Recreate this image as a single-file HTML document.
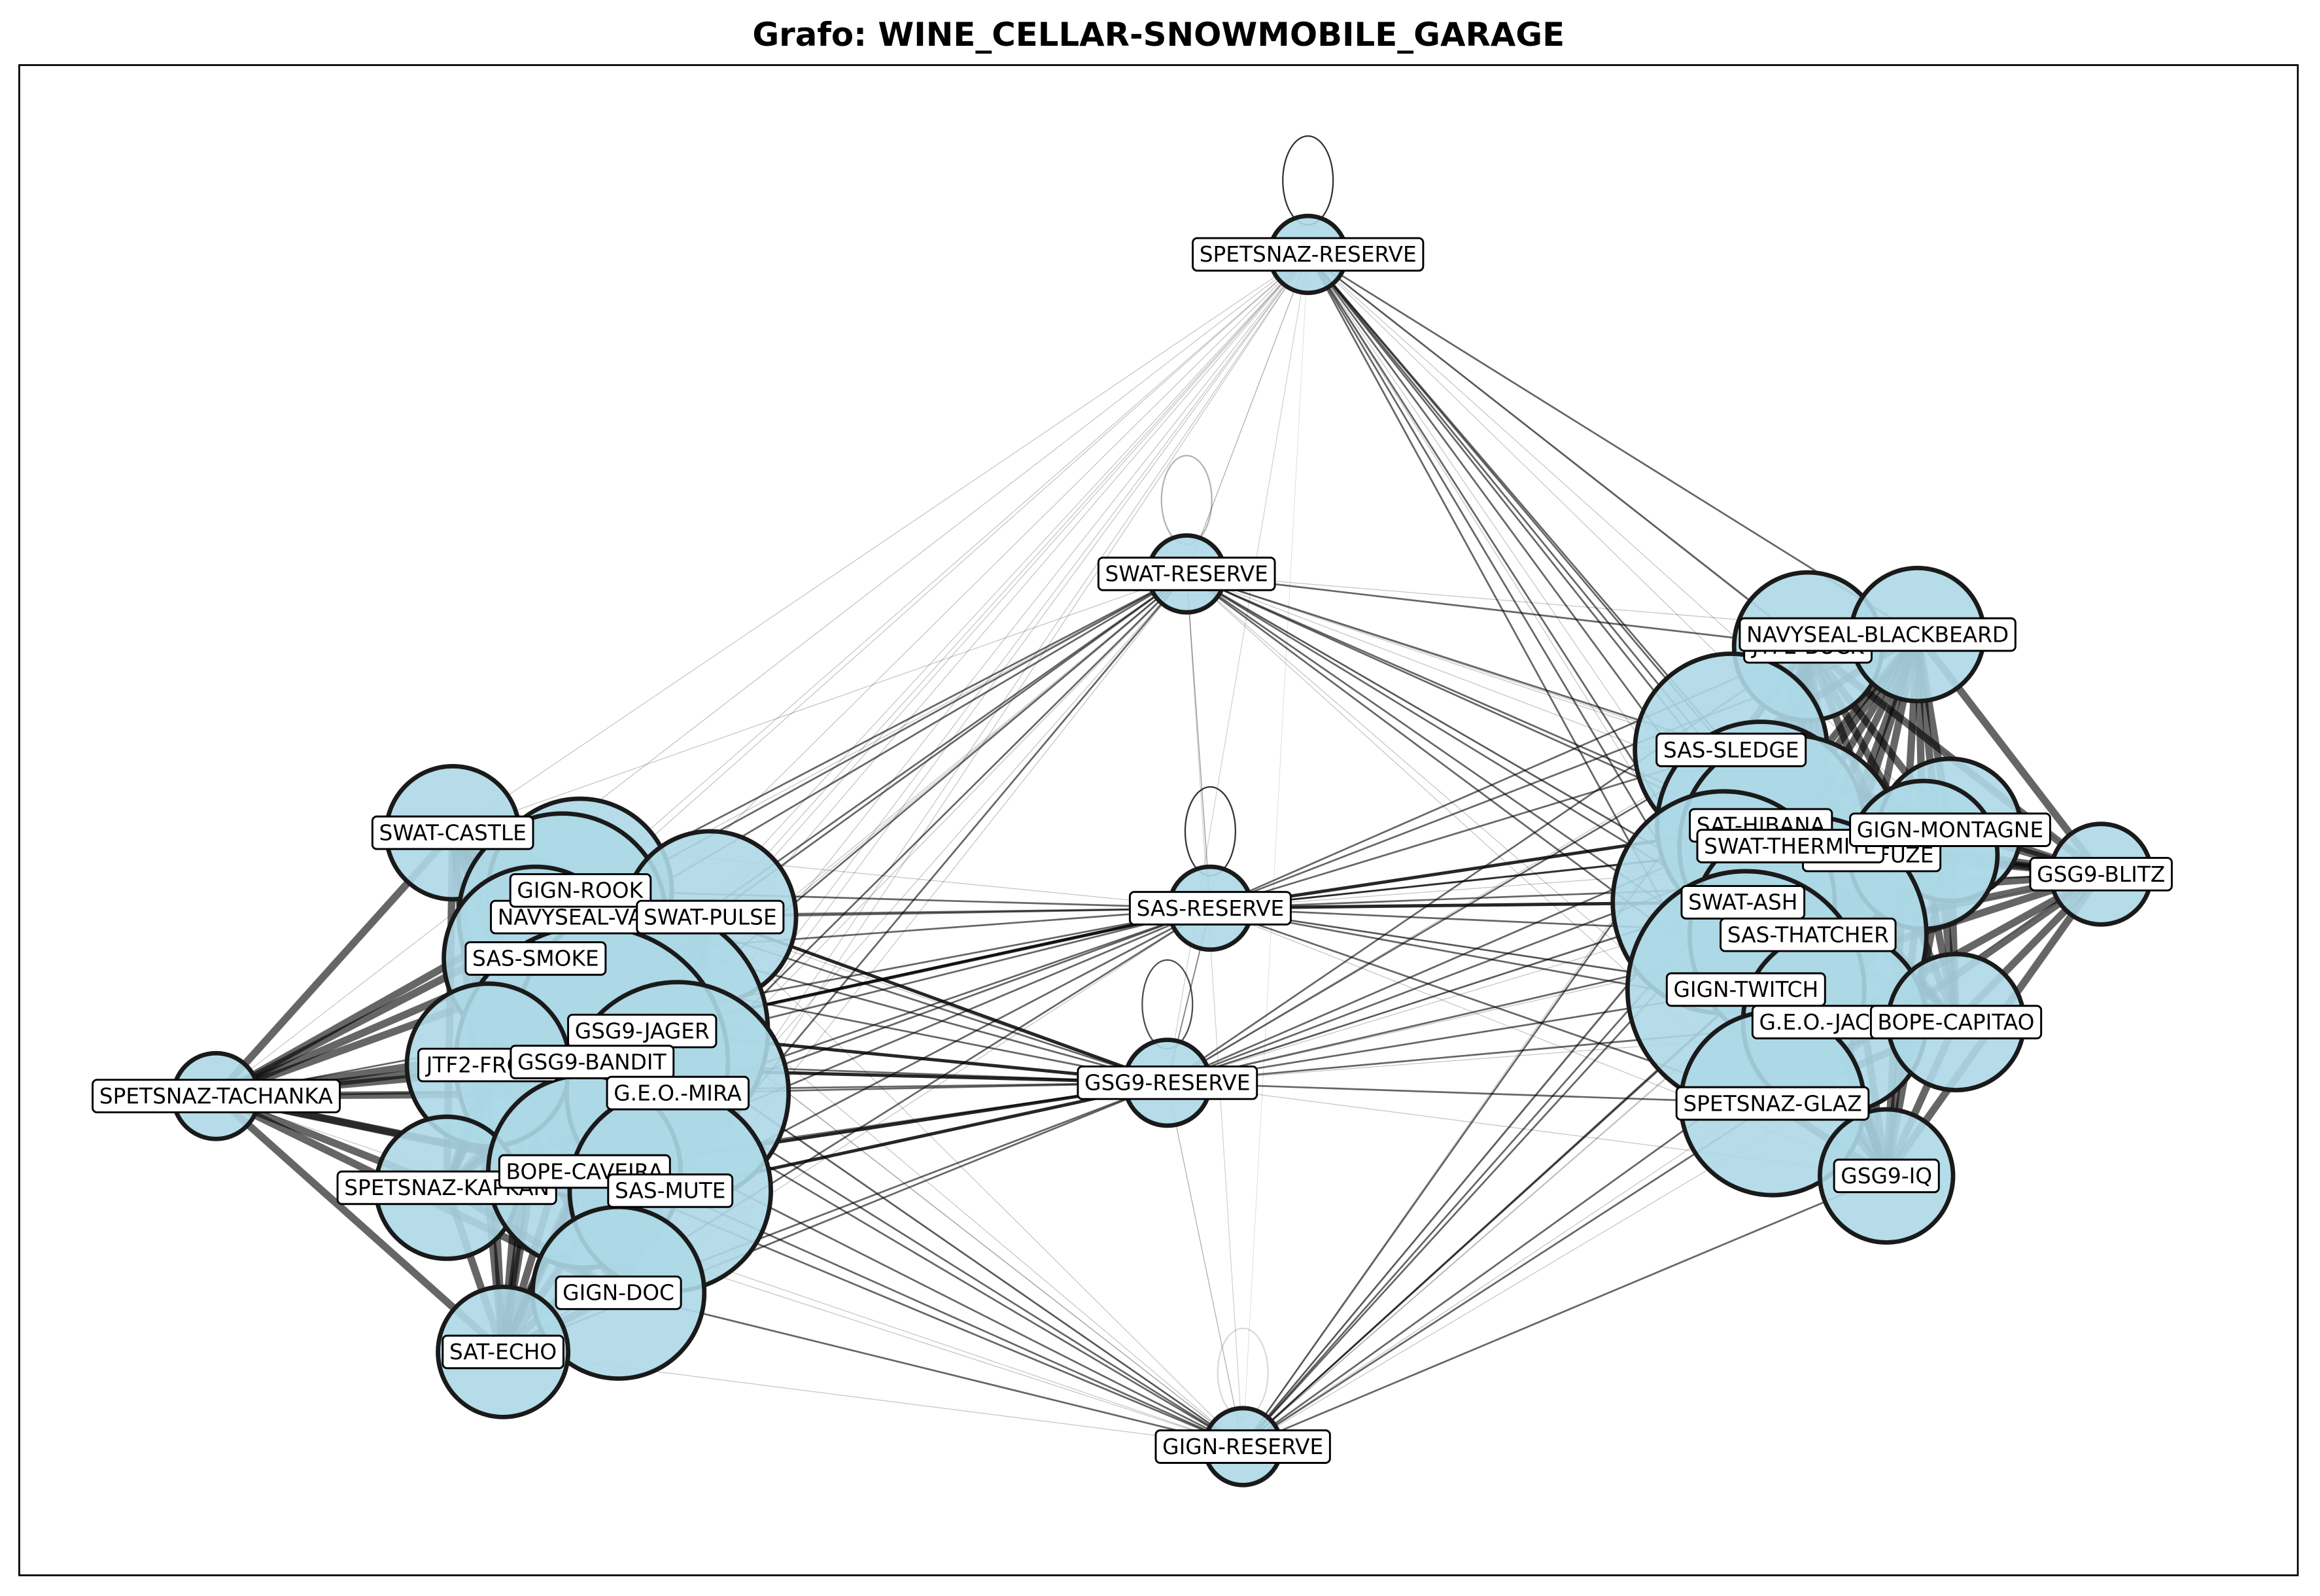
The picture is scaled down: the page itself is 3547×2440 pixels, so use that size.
<!DOCTYPE html>
<html><head><meta charset="utf-8"><style>
html,body{margin:0;padding:0;background:#fff;}
svg{display:block;}
text{font-family:"DejaVu Sans","Liberation Sans",sans-serif;}
</style></head><body>
<svg id="chart" width="3547" height="2440" viewBox="0 0 1568 1079" preserveAspectRatio="none" xmlns="http://www.w3.org/2000/svg">
<rect x="0" y="0" width="1568" height="1079" fill="#fff"/>
<text x="783" y="31" text-anchor="middle" font-size="22" font-weight="bold">Grafo: WINE_CELLAR-SNOWMOBILE_GARAGE</text>
<rect x="13" y="44" width="1540" height="1021" fill="none" stroke="#000" stroke-width="1.2"/>
<g id="edges"></g><g id="nodes"></g><g id="labels"></g>
</svg>
<script>
const nodeNames = ["SPETSNAZ-RESERVE","SWAT-RESERVE","SAS-RESERVE","GSG9-RESERVE","GIGN-RESERVE",
"SPETSNAZ-TACHANKA","SWAT-CASTLE","GIGN-ROOK","NAVYSEAL-VALKYRIE","SWAT-PULSE","SAS-SMOKE","GSG9-JAGER","GSG9-BANDIT","JTF2-FROST","G.E.O.-MIRA","SPETSNAZ-KAPKAN","BOPE-CAVEIRA","SAS-MUTE","GIGN-DOC","SAT-ECHO",
"JTF2-BUCK","NAVYSEAL-BLACKBEARD","SAS-SLEDGE","SAT-HIBANA","SWAT-THERMITE","GIGN-MONTAGNE","GSG9-FUZE","GSG9-BLITZ","SWAT-ASH","SAS-THATCHER","GIGN-TWITCH","G.E.O.-JACKAL","BOPE-CAPITAO","SPETSNAZ-GLAZ","GSG9-IQ"];
const nodeX = [884,802,818,789,840,146,306,392,380,480,362,434,400,330,458,302,395,453,418,340,1222,1296,1170,1190,1210,1318,1300,1420,1165,1222,1180,1240,1322,1198,1275];
const nodeY = [172,388,614,732,978,741,563,602,620,620,648,697,718,720,739,803,792,805,874,914,437,429,507,558,572,561,578,591,610,632,669,691,691,746,795];
const nodeR = [26,26,28,29,26,29,45,62,70,58,62,85,92,55,75,48,65,68,58,44,50,45,65,70,75,48,50,34,75,80,80,62,46,62,45];
const labelX = [884,802,818,789,840,146,306,392,410,480,362,434,400,330,458,302,395,453,418,340,1222,1269,1170,1190,1210,1318,1265,1420,1178,1222,1180,1240,1322,1198,1275];
const labelY = [172,388,614,732,978,741,563,602,620,620,648,697,718,720,739,803,792,805,874,914,437,429,507,558,572,561,578,591,610,632,669,691,691,746,795];
const labelOrder = [0,1,2,3,4,5,6,8,7,9,10,11,13,12,14,15,16,17,18,19,20,21,22,26,23,24,25,27,28,29,30,31,32,33,34];
// reserve -> cluster weights (nodes 5..34), 0 = none
const resWeights = [
 [1,1,1,1,1,0,1,1,1,1,1,1,1,1,1, 2,2,2,2,2,1,1,1,2,2,2,1,2,2,1],
 [1,1,2,2,2,2,2,1,2,1,1,2,2,1,1, 2,1,2,2,2,1,1,1,2,2,2,2,1,1,1],
 [2,1,2,2,2,2,2,2,3,2,2,2,2,1,2, 2,2,2,3,2,2,1,2,3,2,2,2,1,2,1],
 [2,1,2,2,3,2,3,2,3,2,2,3,3,2,2, 2,1,2,2,2,1,1,1,2,2,2,2,1,2,1],
 [1,1,1,1,1,1,2,2,2,2,1,2,2,2,1, 2,1,1,2,2,1,1,1,2,2,2,2,1,2,2]
];
const selfLoopNodes = [0,1,2,3,4];
const selfLoopAlpha = [0.8,0.3,0.8,0.7,0.15];
const widths=[0,0.5,1.2,2.2];
const alphas=[0,0.25,0.6,0.85];
const ns="http://www.w3.org/2000/svg";
const gE=document.getElementById('edges'),gN=document.getElementById('nodes'),gL=document.getElementById('labels');
function line(a,b,w,al){
  const l=document.createElementNS(ns,'line');
  l.setAttribute('x1',nodeX[a]);l.setAttribute('y1',nodeY[a]);l.setAttribute('x2',nodeX[b]);l.setAttribute('y2',nodeY[b]);
  l.setAttribute('stroke','#000');l.setAttribute('stroke-width',w);l.setAttribute('stroke-opacity',al);
  
  
  gE.appendChild(l);
}
line(0,1,0.6,0.3);line(1,2,0.6,0.4);line(2,3,0.8,0.5);line(3,4,0.6,0.3);line(0,3,0.5,0.2);line(1,4,0.5,0.2);line(0,4,0.4,0.15);
resWeights.forEach((ws,r)=>ws.forEach((w,i)=>{if(w>0)line(r,i+5,widths[w],alphas[w]);}));
for(let a=5;a<20;a++)for(let b=a+1;b<20;b++)line(a,b,5,0.6);
for(let a=20;a<35;a++)for(let b=a+1;b<35;b++)line(a,b,5,0.6);
selfLoopNodes.forEach((n,i)=>{
  const e=document.createElementNS(ns,'ellipse');
  e.setAttribute('cx',nodeX[n]);e.setAttribute('cy',nodeY[n]-nodeR[n]-24);
  e.setAttribute('rx',17);e.setAttribute('ry',30);
  e.setAttribute('fill','none');e.setAttribute('stroke','#000');e.setAttribute('stroke-width',1);e.setAttribute('stroke-opacity',selfLoopAlpha[i]);
  
  
  gE.appendChild(e);
});
nodeNames.forEach((nm,i)=>{
  const c=document.createElementNS(ns,'circle');
  c.setAttribute('cx',nodeX[i]);c.setAttribute('cy',nodeY[i]);c.setAttribute('r',nodeR[i]);
  c.setAttribute('fill','#add8e6');c.setAttribute('fill-opacity',0.9);c.setAttribute('stroke','#1a1a1a');c.setAttribute('stroke-width',3);
  
  
  gN.appendChild(c);
});
labelOrder.forEach(i=>{
  const lb=nodeNames[i];
  const g=document.createElementNS(ns,'g');
  
  
  const t=document.createElementNS(ns,'text');
  t.setAttribute('x',labelX[i]);t.setAttribute('y',labelY[i]+5);t.setAttribute('text-anchor','middle');t.setAttribute('font-size','14.5');
  t.textContent=lb;
  g.appendChild(t);gL.appendChild(g);
  const bb=t.getBBox();
  const r=document.createElementNS(ns,'rect');
  r.setAttribute('x',bb.x-4.5);r.setAttribute('y',labelY[i]-11);r.setAttribute('width',bb.width+9);r.setAttribute('height',22);
  r.setAttribute('rx',3);r.setAttribute('fill','#fff');r.setAttribute('stroke','#000');r.setAttribute('stroke-width',1.3);
  g.insertBefore(r,t);
});
</script>
</body></html>
